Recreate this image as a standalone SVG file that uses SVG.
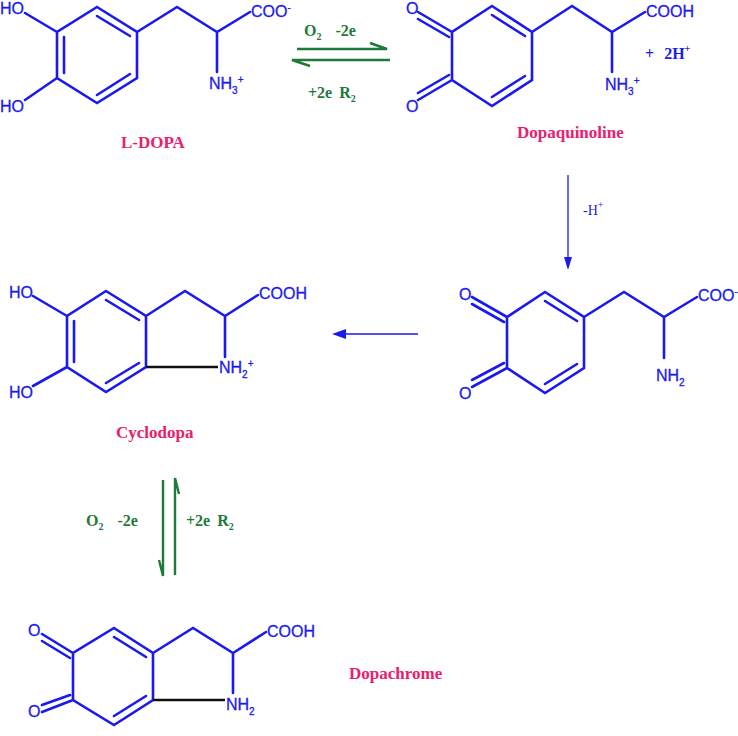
<svg xmlns="http://www.w3.org/2000/svg" width="738" height="736" viewBox="0 0 738 736">
<style>
.b{stroke:#1a1aee;stroke-width:2.6;fill:none;stroke-linecap:round}
.k{stroke:#111;stroke-width:2.6}
.a{font-family:"Liberation Sans",Arial,sans-serif;font-size:16px;fill:#1a1aee;stroke:#1a1aee;stroke-width:0.3}
.g{font-family:"Liberation Serif",serif;font-size:16px;font-weight:bold;fill:#1f7a3a}
.gl{stroke:#1f7a3a;stroke-width:2.4;fill:none}
.n{font-family:"Liberation Serif",serif;font-size:17px;font-weight:bold;fill:#e8206e}
.bl{font-family:"Liberation Serif",serif;font-size:16px;font-weight:bold;fill:#1a1aee}
.s{font-size:10px}
</style>
<g id="ldopa">
<path class="b" d="M97,7 L137,32 L137,78 L97,103 L57,78 L57,32 Z M97,16 L130,36 M64,37 L64,73 M97,95 L130,74 M25,13 L57,32 M25,100 L57,78 M137,32 L177,7 L217,32 L250,12 M217,32 L217,72"/>
<text class="a" x="0" y="14">HO</text><text class="a" x="0" y="112">HO</text>
<text class="a" x="251" y="17">COO<tspan class="s" dy="-6">-</tspan></text>
<text class="a" x="209" y="89">NH<tspan class="s" dy="5">3</tspan><tspan class="s" dy="-11">+</tspan></text>
<text class="n" x="121" y="148">L-DOPA</text>
</g>
<g id="dopaquinoline">
<path class="b" d="M492,6 L532,32 L532,80 L492,106 L452,80 L452,32 Z M492,15 L525,36 M492,97 L525,76 M418,12 L452,32 M418,19 L449,37 M418,100 L452,80 M418,93 L449,75 M532,32 L572,6 L612,32 L645,12 M612,32 L612,72"/>
<text class="a" x="406" y="14">O</text><text class="a" x="406" y="112">O</text>
<text class="a" x="646" y="17">COOH</text>
<text class="a" x="605" y="90">NH<tspan class="s" dy="5">3</tspan><tspan class="s" dy="-11">+</tspan></text>
<text class="bl" x="645" y="59">+ <tspan dx="6">2H</tspan><tspan class="s" dy="-7">+</tspan></text>
<text class="n" x="517" y="138">Dopaquinoline</text>
</g>
<g id="quinone">
<path class="b" d="M545,292 L584,317 L584,368 L545,393 L507,368 L507,317 Z M545,301 L577,321 M545,384 L577,364 M472,297 L507,317 M472,304 L504,322 M472,387 L507,368 M472,380 L504,363 M584,317 L624,292 L664,317 L697,297 M664,317 L664,358"/>
<text class="a" x="459" y="300">O</text><text class="a" x="459" y="399">O</text>
<text class="a" x="698" y="301">COO<tspan class="s" dy="-6">-</tspan></text>
<text class="a" x="656" y="381">NH<tspan class="s" dy="5">2</tspan></text>
</g>
<g id="cyclodopa">
<path class="b" d="M106,291 L146,316 L146,367 L106,392 L67,367 L67,316 Z M106,300 L139,320 M74,321 L74,362 M106,383 L139,363 M33,296 L67,316 M33,386 L67,367 M146,316 L185,291 L225,316 L258,295 M225,316 L225,357"/>
<line class="k" x1="146" y1="367" x2="218" y2="367"/>
<text class="a" x="9" y="298">HO</text><text class="a" x="9" y="398">HO</text>
<text class="a" x="259" y="299">COOH</text>
<text class="a" x="219" y="373">NH<tspan class="s" dy="5">2</tspan><tspan class="s" dy="-11">+</tspan></text>
<text class="n" x="116" y="438">Cyclodopa</text>
</g>
<g id="dopachrome">
<path class="b" d="M114,628 L153,653 L153,700 L114,725 L73,700 L73,653 Z M114,637 L146,657 M114,716 L146,696 M42,634 L73,653 M42,641 L70,658 M42,712 L73,700 M42,705 L70,695 M153,653 L193,628 L233,653 L266,632 M233,653 L233,693"/>
<line class="k" x1="153" y1="700" x2="225" y2="700"/>
<text class="a" x="28" y="636">O</text><text class="a" x="28" y="717">O</text>
<text class="a" x="267" y="637">COOH</text>
<text class="a" x="226" y="710">NH<tspan class="s" dy="5">2</tspan></text>
<text class="n" x="349" y="679">Dopachrome</text>
</g>
<g id="connectors">
<path class="gl" d="M297,49 L387,49 L370,43"/>
<path class="gl" d="M390,60 L292,60 L310,66"/>
<text class="g" x="304" y="36">O<tspan class="s" dy="4">2</tspan><tspan dy="-4" dx="14">-2e</tspan></text>
<text class="g" x="308" y="98">+2e <tspan dx="3">R</tspan><tspan class="s" dy="4">2</tspan></text>
<line x1="568" y1="175" x2="568" y2="266" stroke="#1a1aee" stroke-width="1.3"/>
<path d="M568,270 L564,257 L572,257 Z" fill="#1a1aee"/>
<text x="583" y="215" font-family="Liberation Serif,serif" font-size="14" fill="#1a1aee">-H<tspan class="s" dy="-7">+</tspan></text>
<line x1="418" y1="334" x2="340" y2="334" stroke="#1a1aee" stroke-width="1.5"/>
<path d="M332,334 L346,329 L346,339 Z" fill="#1a1aee"/>
<path class="gl" d="M163,480 L163,576 L159,560" stroke-width="1.5"/>
<path class="gl" d="M175,575 L175,478 L179,494" stroke-width="1.5"/>
<text class="g" x="86" y="526">O<tspan class="s" dy="4">2</tspan><tspan dy="-4" dx="14">-2e</tspan></text>
<text class="g" x="186" y="526">+2e <tspan dx="3">R</tspan><tspan class="s" dy="4">2</tspan></text>
</g>
</svg>
